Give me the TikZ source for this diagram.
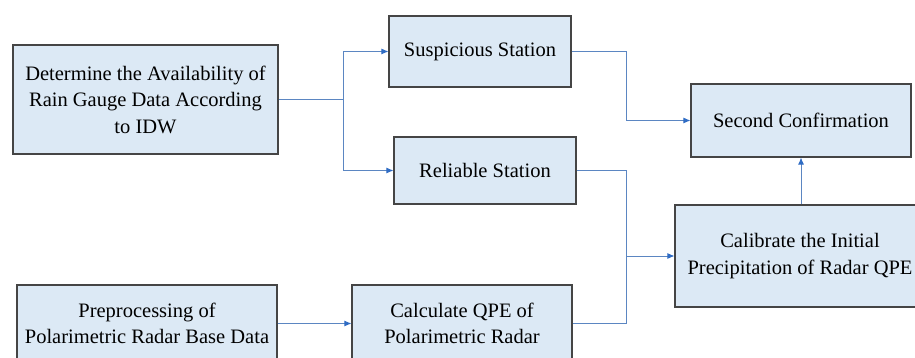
\documentclass[tikz,border=0pt]{standalone}
\usepackage{fontspec}
\setmainfont{Liberation Serif}
\newfontfamily\tnr{Liberation Serif}
\usetikzlibrary{arrows.meta}
\definecolor{boxfill}{HTML}{DCE9F5}
\definecolor{boxline}{HTML}{454545}
\definecolor{linkc}{HTML}{5B86C2}
\definecolor{tipc}{HTML}{2F6CC4}
\tikzset{
  stepbox/.style={draw=boxline, line width=1.1pt, fill=boxfill, inner sep=0pt, align=center,
    font=\tnr\fontsize{20.5}{26.5}\selectfont},
  link/.style={draw=linkc, line width=0.9pt},
  arr/.style={link, -{Latex[length=7pt,width=6pt,color=tipc]}}
}
\begin{document}
\begin{tikzpicture}[x=1pt,y=-1pt]
\useasboundingbox (0,0) rectangle (915,358);
\node[stepbox, minimum width=265pt, minimum height=109pt] (A) at (145.5,99.5) {Determine the Availability of\\Rain Gauge Data According\\to IDW};
\node[stepbox, minimum width=182pt, minimum height=71pt] (S) at (480,51.5) {Suspicious Station};
\node[stepbox, minimum width=182pt, minimum height=67pt] (R) at (485,170.5) {Reliable Station};
\node[stepbox, minimum width=220pt, minimum height=73pt] (SC) at (801,120.5) {Second Confirmation};
\node[stepbox, minimum width=250pt, minimum height=102pt] (C) at (800,256) {Calibrate the Initial\\Precipitation of Radar QPE};
\node[stepbox, minimum width=260pt, minimum height=77pt] (P) at (147,323.5) {Preprocessing of\\Polarimetric Radar Base Data};
\node[stepbox, minimum width=220pt, minimum height=77pt] (Q) at (462,323.5) {Calculate QPE of\\Polarimetric Radar};
\coordinate (j1) at (343,99.5);
\coordinate (j2) at (626,256);
\draw[link] (A.east) -- (j1);
\draw[arr] (j1) |- (S.west);
\draw[arr] (j1) |- (R.west);
\draw[arr] (S.east) -| (626,120.5) -- (SC.west);
\draw[link] (R.east) -| (j2);
\draw[link] (Q.east) -| (j2);
\draw[arr] (j2) -- (C.west);
\draw[arr] (C.north -| SC.south) -- (SC.south);
\draw[arr] (P.east) -- (Q.west);
\end{tikzpicture}
\end{document}
